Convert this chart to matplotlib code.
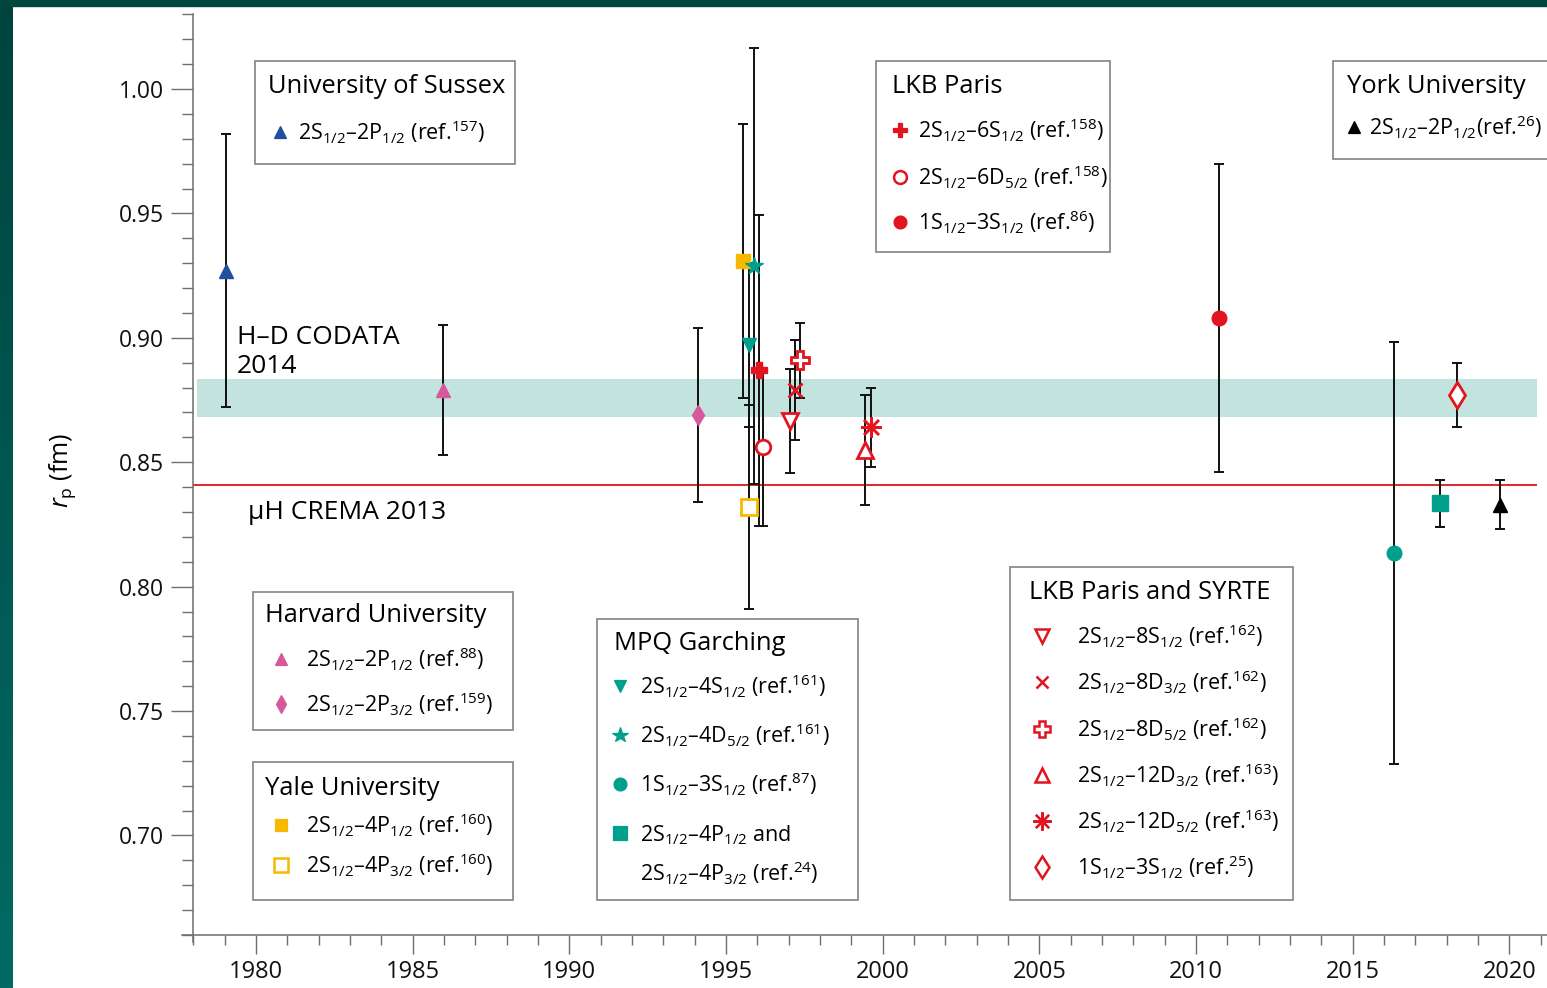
import matplotlib.pyplot as plt
import numpy as np
from matplotlib.patches import Rectangle
from matplotlib.colors import LinearSegmentedColormap
from matplotlib.ticker import MultipleLocator, FormatStrFormatter

plt.rcParams['font.family'] = ['Open Sans', 'DejaVu Sans']
plt.rcParams['mathtext.fontset'] = 'custom'
plt.rcParams['mathtext.rm'] = 'Open Sans'
plt.rcParams['mathtext.it'] = 'Open Sans:italic'
plt.rcParams['mathtext.default'] = 'regular'

# proton radius from hydrogen spectroscopy, one entry per measurement
keys = ['sussex', 'harvard_2p12', 'harvard_2p32', 'yale_4p12', 'yale_4p32',
        'mpq_4s', 'mpq_4d', 'lkb_6s', 'lkb_6d', 'syrte_8s', 'syrte_8d32',
        'syrte_8d52', 'syrte_12d32', 'syrte_12d52', 'lkb_3s', 'mpq_3s',
        'mpq_4p', 'syrte_3s', 'york']
year = [1979.04, 1985.96, 1994.10, 1995.54, 1995.72, 1995.72, 1995.90,
        1996.04, 1996.18, 1997.05, 1997.20, 1997.37, 1999.45, 1999.62,
        2010.74, 2016.32, 2017.77, 2018.34, 2019.70]
rp = [0.927, 0.879, 0.869, 0.931, 0.832, 0.897, 0.929, 0.887, 0.856,
      0.8665, 0.879, 0.891, 0.855, 0.864, 0.908, 0.8135, 0.8335, 0.877, 0.833]
rp_err = [0.055, 0.026, 0.035, 0.055, 0.041, 0.033, 0.0876, 0.0625, 0.0316,
          0.021, 0.020, 0.015, 0.022, 0.016, 0.062, 0.0848, 0.0094, 0.013, 0.010]

codata_rp, codata_err = 0.8758, 0.0075
crema_rp = 0.8409

# legend groups: title and rows (measurement key, label)
groups = {
    'University of Sussex': [('sussex', '2S$_{1/2}$–2P$_{1/2}$ (ref.$^{157}$)')],
    'LKB Paris': [('lkb_6s', '2S$_{1/2}$–6S$_{1/2}$ (ref.$^{158}$)'),
                  ('lkb_6d', '2S$_{1/2}$–6D$_{5/2}$ (ref.$^{158}$)'),
                  ('lkb_3s', '1S$_{1/2}$–3S$_{1/2}$ (ref.$^{86}$)')],
    'York University': [('york', '2S$_{1/2}$–2P$_{1/2}$(ref.$^{26}$)')],
    'Harvard University': [('harvard_2p12', '2S$_{1/2}$–2P$_{1/2}$ (ref.$^{88}$)'),
                           ('harvard_2p32', '2S$_{1/2}$–2P$_{3/2}$ (ref.$^{159}$)')],
    'Yale University': [('yale_4p12', '2S$_{1/2}$–4P$_{1/2}$ (ref.$^{160}$)'),
                        ('yale_4p32', '2S$_{1/2}$–4P$_{3/2}$ (ref.$^{160}$)')],
    'MPQ Garching': [('mpq_4s', '2S$_{1/2}$–4S$_{1/2}$ (ref.$^{161}$)'),
                     ('mpq_4d', '2S$_{1/2}$–4D$_{5/2}$ (ref.$^{161}$)'),
                     ('mpq_3s', '1S$_{1/2}$–3S$_{1/2}$ (ref.$^{87}$)'),
                     ('mpq_4p', '2S$_{1/2}$–4P$_{1/2}$ and'),
                     (None, '2S$_{1/2}$–4P$_{3/2}$ (ref.$^{24}$)')],
    'LKB Paris and SYRTE': [('syrte_8s', '2S$_{1/2}$–8S$_{1/2}$ (ref.$^{162}$)'),
                            ('syrte_8d32', '2S$_{1/2}$–8D$_{3/2}$ (ref.$^{162}$)'),
                            ('syrte_8d52', '2S$_{1/2}$–8D$_{5/2}$ (ref.$^{162}$)'),
                            ('syrte_12d32', '2S$_{1/2}$–12D$_{3/2}$ (ref.$^{163}$)'),
                            ('syrte_12d52', '2S$_{1/2}$–12D$_{5/2}$ (ref.$^{163}$)'),
                            ('syrte_3s', '1S$_{1/2}$–3S$_{1/2}$ (ref.$^{25}$)')],
}

BLUE = '#1f4fa0'
PINK = '#d8589c'
GOLD = '#f9b800'
TEAL = '#00a08c'
RED = '#e2141f'
W = 'white'
AST = (8, 2, 0)

# marker, face, edge, size, edge width
style = {
    'sussex': ('^', BLUE, BLUE, 10, 1),
    'harvard_2p12': ('^', PINK, PINK, 10, 1),
    'harvard_2p32': ('d', PINK, PINK, 10, 1),
    'yale_4p12': ('s', GOLD, GOLD, 10, 1),
    'yale_4p32': ('s', W, GOLD, 11, 2),
    'mpq_4s': ('v', TEAL, TEAL, 10, 1),
    'mpq_4d': ('*', TEAL, TEAL, 13, 1),
    'lkb_6s': ('P', RED, RED, 11, 1),
    'lkb_6d': ('o', W, RED, 10.5, 2),
    'syrte_8s': ('v', W, RED, 12, 2),
    'syrte_8d32': ('x', RED, RED, 10.5, 2),
    'syrte_8d52': ('P', W, RED, 13, 2),
    'syrte_12d32': ('^', W, RED, 12, 2),
    'syrte_12d52': (AST, RED, RED, 15, 1.8),
    'lkb_3s': ('o', RED, RED, 10.5, 1),
    'mpq_3s': ('o', TEAL, TEAL, 10.5, 1),
    'mpq_4p': ('s', TEAL, TEAL, 11, 1),
    'syrte_3s': ('d', W, RED, 13, 2),
    'york': ('^', 'black', 'black', 10, 1),
}

FW, FH = 1547, 988
fig = plt.figure(figsize=(FW / 100, FH / 100), dpi=100)
fig.patch.set_facecolor('white')

# dark teal page edges
edge = fig.add_axes([0, 0, 13 / FW, 1])
edge.imshow(np.linspace(0, 1, 256)[:, None], aspect='auto',
            cmap=LinearSegmentedColormap.from_list('edge', ['#00433e', '#006b63']))
edge.set_axis_off()
fig.patches.append(Rectangle((0, 1 - 6 / FH), 1, 6 / FH, transform=fig.transFigure,
                             color='#00483f', zorder=10))

ax = fig.add_axes([182.3 / FW, 1 - 942.4 / FH, 1 - 182.3 / FW, (942.4 - 14.4) / FH])
ax.set_xlim(1977.65, 2021.2)
ax.set_ylim(0.657, 1.03)
for s in ['top', 'right']:
    ax.spines[s].set_visible(False)
ax.spines['left'].set_position(('data', 1978))
ax.spines['bottom'].set_position(('data', 0.66))
for s in ['left', 'bottom']:
    ax.spines[s].set_color('#6e6e6e')
    ax.spines[s].set_linewidth(1.1)

ax.xaxis.set_major_locator(MultipleLocator(5))
ax.xaxis.set_minor_locator(MultipleLocator(1))
ax.yaxis.set_major_locator(MultipleLocator(0.05))
ax.yaxis.set_minor_locator(MultipleLocator(0.01))
ax.yaxis.set_major_formatter(FormatStrFormatter('%.2f'))
ax.tick_params(axis='both', which='both', direction='out', color='#6e6e6e',
               width=1.0, labelcolor='#111111')
ax.tick_params(axis='y', which='major', length=16, pad=5, labelsize=16.5)
ax.tick_params(axis='y', which='minor', length=8)
ax.tick_params(axis='x', which='major', length=14, pad=4, labelsize=17)
ax.tick_params(axis='x', which='minor', length=7)

# CODATA band and muonic hydrogen line
ax.fill_between([1978.13, 2020.88], codata_rp - codata_err, codata_rp + codata_err,
                color='#c3e4de', lw=0, zorder=0)
ax.hlines(crema_rp, 1978, 2020.88, color='#e2262b', lw=1.4, zorder=1)

ax.errorbar(year, rp, yerr=rp_err, fmt='none', ecolor='#111111', elinewidth=1.4,
            capsize=3.6, capthick=1.4, zorder=2)
for k, x, y in zip(keys, year, rp):
    m, fc, ec, ms, mew = style[k]
    ax.plot(x, y, linestyle='none', marker=m, markerfacecolor=fc,
            markeredgecolor=ec, markersize=ms, markeredgewidth=mew, zorder=3)

# overlay in pixel coordinates for the boxes and annotations
ov = fig.add_axes([0, 0, 1, 1], zorder=5)
ov.set_xlim(0, FW)
ov.set_ylim(FH, 0)
ov.set_axis_off()
ov.patch.set_visible(False)

ov.text(237, 344, 'H–D CODATA', fontsize=19, va='baseline')
ov.text(237, 373, '2014', fontsize=19, va='baseline')
ov.text(248, 519, 'µH CREMA 2013', fontsize=19, va='baseline')
ov.text(62, 470, r'$\mathit{r}_\mathrm{p}$ (fm)', fontsize=18, rotation=90,
        ha='center', va='center')

# box: (left, top, right, bottom), title x, title y, marker x, text x, row ys
boxes = {
    'University of Sussex': ((255, 61, 515, 164), 268, 84, 280, 298, [132]),
    'LKB Paris': ((876, 61, 1110, 252), 892, 84, 900, 918, [130, 177, 222]),
    'York University': ((1333, 61, 1560, 159), 1347, 84, 1354, 1369, [127]),
    'Harvard University': ((253, 592, 513, 730), 265, 613, 281, 306, [659, 704]),
    'Yale University': ((253, 762, 513, 900), 265, 786, 281, 306, [825, 865]),
    'MPQ Garching': ((597, 619, 858, 900), 614, 641, 620, 640, [686, 735, 784, 833, 873]),
    'LKB Paris and SYRTE': ((1010, 567, 1293, 900), 1029, 590, 1042, 1077,
                            [636, 682, 729, 775, 821, 867]),
}

for title, rows in groups.items():
    (x0, y0, x1, y1), tx, ty, mx, lx, ys = boxes[title]
    ov.add_patch(Rectangle((x0, y0), x1 - x0, y1 - y0, facecolor='white',
                           edgecolor='#8c8c8c', lw=1.3, zorder=1))
    ov.text(tx, ty + 9, title, fontsize=18.4, va='baseline', zorder=2)
    for (k, label), yy in zip(rows, ys):
        ov.text(lx, yy + 8, label, fontsize=15.5, va='baseline', zorder=2)
        if k is None:
            continue
        m, fc, ec, ms, mew = style[k]
        ov.plot(mx, yy, linestyle='none', marker=m, markerfacecolor=fc,
                markeredgecolor=ec, markersize=ms * 0.88, markeredgewidth=mew * 0.9,
                zorder=3, clip_on=False)

fig.savefig('out.png', dpi=100)
